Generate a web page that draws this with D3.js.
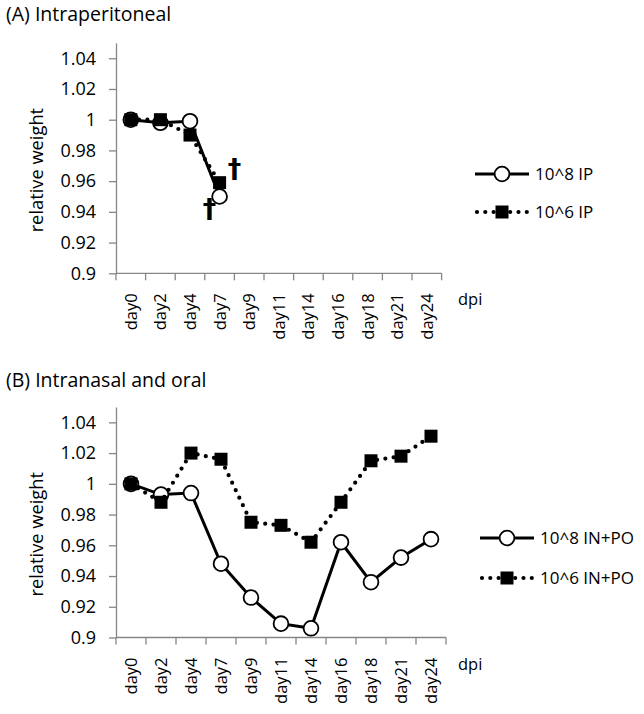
<!DOCTYPE html>
<html><head><meta charset="utf-8">
<script src="https://cdn.jsdelivr.net/npm/d3@7"></script>
<style>
body{margin:0;background:#fff}
text{font-family:'Open Sans',sans-serif;fill:#000}
</style>
</head><body>
<svg id="chart" width="644" height="714"></svg>
<script>
// ---- data ----
const categories = ["day0","day2","day4","day7","day9","day11","day14","day16","day18","day21","day24"];
const yTickValues = [0.9,0.92,0.94,0.96,0.98,1,1.02,1.04];
const yDomain = [0.9,1.05];

const titleA = "(A) Intraperitoneal";
const titleB = "(B) Intranasal and oral";
const seriesNamesA = ["10^8 IP","10^6 IP"];
const seriesNamesB = ["10^8 IN+PO","10^6 IN+PO"];

const ipHigh = [1.000,0.998,0.999,0.950];   // 10^8 IP
const ipLow  = [1.000,1.000,0.990,0.959];   // 10^6 IP
const inHigh = [1.000,0.993,0.994,0.948,0.926,0.909,0.906,0.962,0.936,0.952,0.964]; // 10^8 IN+PO
const inLow  = [1.000,0.988,1.020,1.016,0.975,0.973,0.962,0.988,1.015,1.018,1.031]; // 10^6 IN+PO

const deathCats = ["day7","day7"];
const deathValues = [0.941,0.967];

// ---- drawing ----
const svg = d3.select("#chart");
svg.append("rect").attr("width",644).attr("height",714).attr("fill","#fff");
const axisColor = "#868686";

function panel(cfg){
  const g = svg.append("g");
  const x = d3.scaleBand().domain(categories).range([cfg.left,cfg.right]);
  const y = d3.scaleLinear().domain(yDomain).range([cfg.bottom,cfg.top]);

  g.append("text").attr("x",6).attr("y",cfg.titleY).style("font-size","19.5px").text(cfg.title);

  // y axis
  const ya = g.append("g").attr("transform",`translate(${cfg.left},0)`)
    .call(d3.axisLeft(y).tickValues(yTickValues).tickSize(7).tickSizeOuter(0).tickPadding(13)
      .tickFormat(d=>String(+d.toFixed(2))));
  ya.selectAll("path,line").attr("stroke",axisColor).attr("stroke-width",1.3);
  ya.selectAll("text").style("font-size","18px").style("font-family","'Open Sans',sans-serif").attr("fill","#000");

  // x axis line
  g.append("line").attr("x1",cfg.left).attr("x2",cfg.right).attr("y1",cfg.bottom).attr("y2",cfg.bottom)
    .attr("stroke",axisColor).attr("stroke-width",1.3);
  // ticks at band boundaries
  const bounds = categories.map(c=>x(c)).concat([x(categories[categories.length-1])+x.step()]);
  g.selectAll(".xt").data(bounds).enter().append("line")
    .attr("x1",d=>d).attr("x2",d=>d).attr("y1",cfg.bottom).attr("y2",cfg.bottom+7)
    .attr("stroke",axisColor).attr("stroke-width",1.3);
  // labels
  g.selectAll(".xl").data(categories).enter().append("text")
    .attr("transform",d=>`translate(${x(d)+x.bandwidth()/2},${cfg.bottom+20}) rotate(-90)`)
    .attr("text-anchor","end").attr("dy","0.36em").style("font-size","16.5px").text(d=>d);

  g.append("text").attr("x",458).attr("y",cfg.bottom+32).style("font-size","16.5px").text("dpi");

  g.append("text").attr("transform",`translate(43,${(cfg.top+cfg.bottom)/2+12}) rotate(-90)`)
    .attr("text-anchor","middle").style("font-size","18.3px").text("relative weight");

  const cx = (d,i)=>x(categories[i])+x.bandwidth()/2;
  const line = d3.line().x(cx).y(d=>y(d));

  // series 1 : solid / open circles
  g.append("path").attr("d",line(cfg.s1)).attr("fill","none").attr("stroke","#000").attr("stroke-width",3);
  g.selectAll(".c1").data(cfg.s1).enter().append("circle")
    .attr("cx",cx).attr("cy",d=>y(d)).attr("r",7.4).attr("fill","#fff").attr("stroke","#000").attr("stroke-width",1.8);

  // series 2 : dotted / filled squares
  g.append("path").attr("d",line(cfg.s2)).attr("fill","none").attr("stroke","#000").attr("stroke-width",4.2)
    .attr("stroke-dasharray","0,8.3").attr("stroke-linecap","round");
  g.selectAll(".s2").data(cfg.s2).enter().append("rect")
    .attr("x",(d,i)=>cx(d,i)-6.5).attr("y",d=>y(d)-6.5).attr("width",13).attr("height",13).attr("fill","#000");

  // legend
  const lg = g.append("g");
  [0,1].forEach(k=>{
    const ly = cfg.legY[k];
    const l = lg.append("line").attr("x1",cfg.legX).attr("x2",cfg.legX+54).attr("y1",ly).attr("y2",ly).attr("stroke","#000");
    if(k===0){
      l.attr("stroke-width",3);
      lg.append("circle").attr("cx",cfg.legX+27).attr("cy",ly).attr("r",7.4).attr("fill","#fff").attr("stroke","#000").attr("stroke-width",1.8);
    } else {
      l.attr("stroke-width",4.2).attr("stroke-dasharray","0,8.3").attr("stroke-linecap","round").attr("x1",cfg.legX+2);
      lg.append("rect").attr("x",cfg.legX+27-6.5).attr("y",ly-6.5).attr("width",13).attr("height",13).attr("fill","#000");
    }
    lg.append("text").attr("x",cfg.legX+60).attr("y",ly).attr("dy","0.36em").style("font-size","17px").text(cfg.names[k]);
  });
  return {g,x,y};
}

const A = panel({left:116,right:116+29.6*11,top:42.9,bottom:273.3,titleY:21,title:titleA,
  s1:ipHigh,s2:ipLow,names:seriesNamesA,legX:475,legY:[174,212]});
const daggerDx = [-10,15];
A.g.selectAll(".dag").data(deathValues).enter().append("text")
  .attr("x",(d,i)=>A.x(deathCats[i])+A.x.bandwidth()/2+daggerDx[i])
  .attr("y",d=>A.y(d)).attr("dy","0.3em").attr("text-anchor","middle")
  .style("font-family","'DejaVu Sans',sans-serif")
  .style("font-size","27px").style("font-weight","bold").text("†");

panel({left:116,right:446,top:407,bottom:637.5,titleY:387,title:titleB,
  s1:inHigh,s2:inLow,names:seriesNamesB,legX:480,legY:[538,578]});
</script>
</body></html>
